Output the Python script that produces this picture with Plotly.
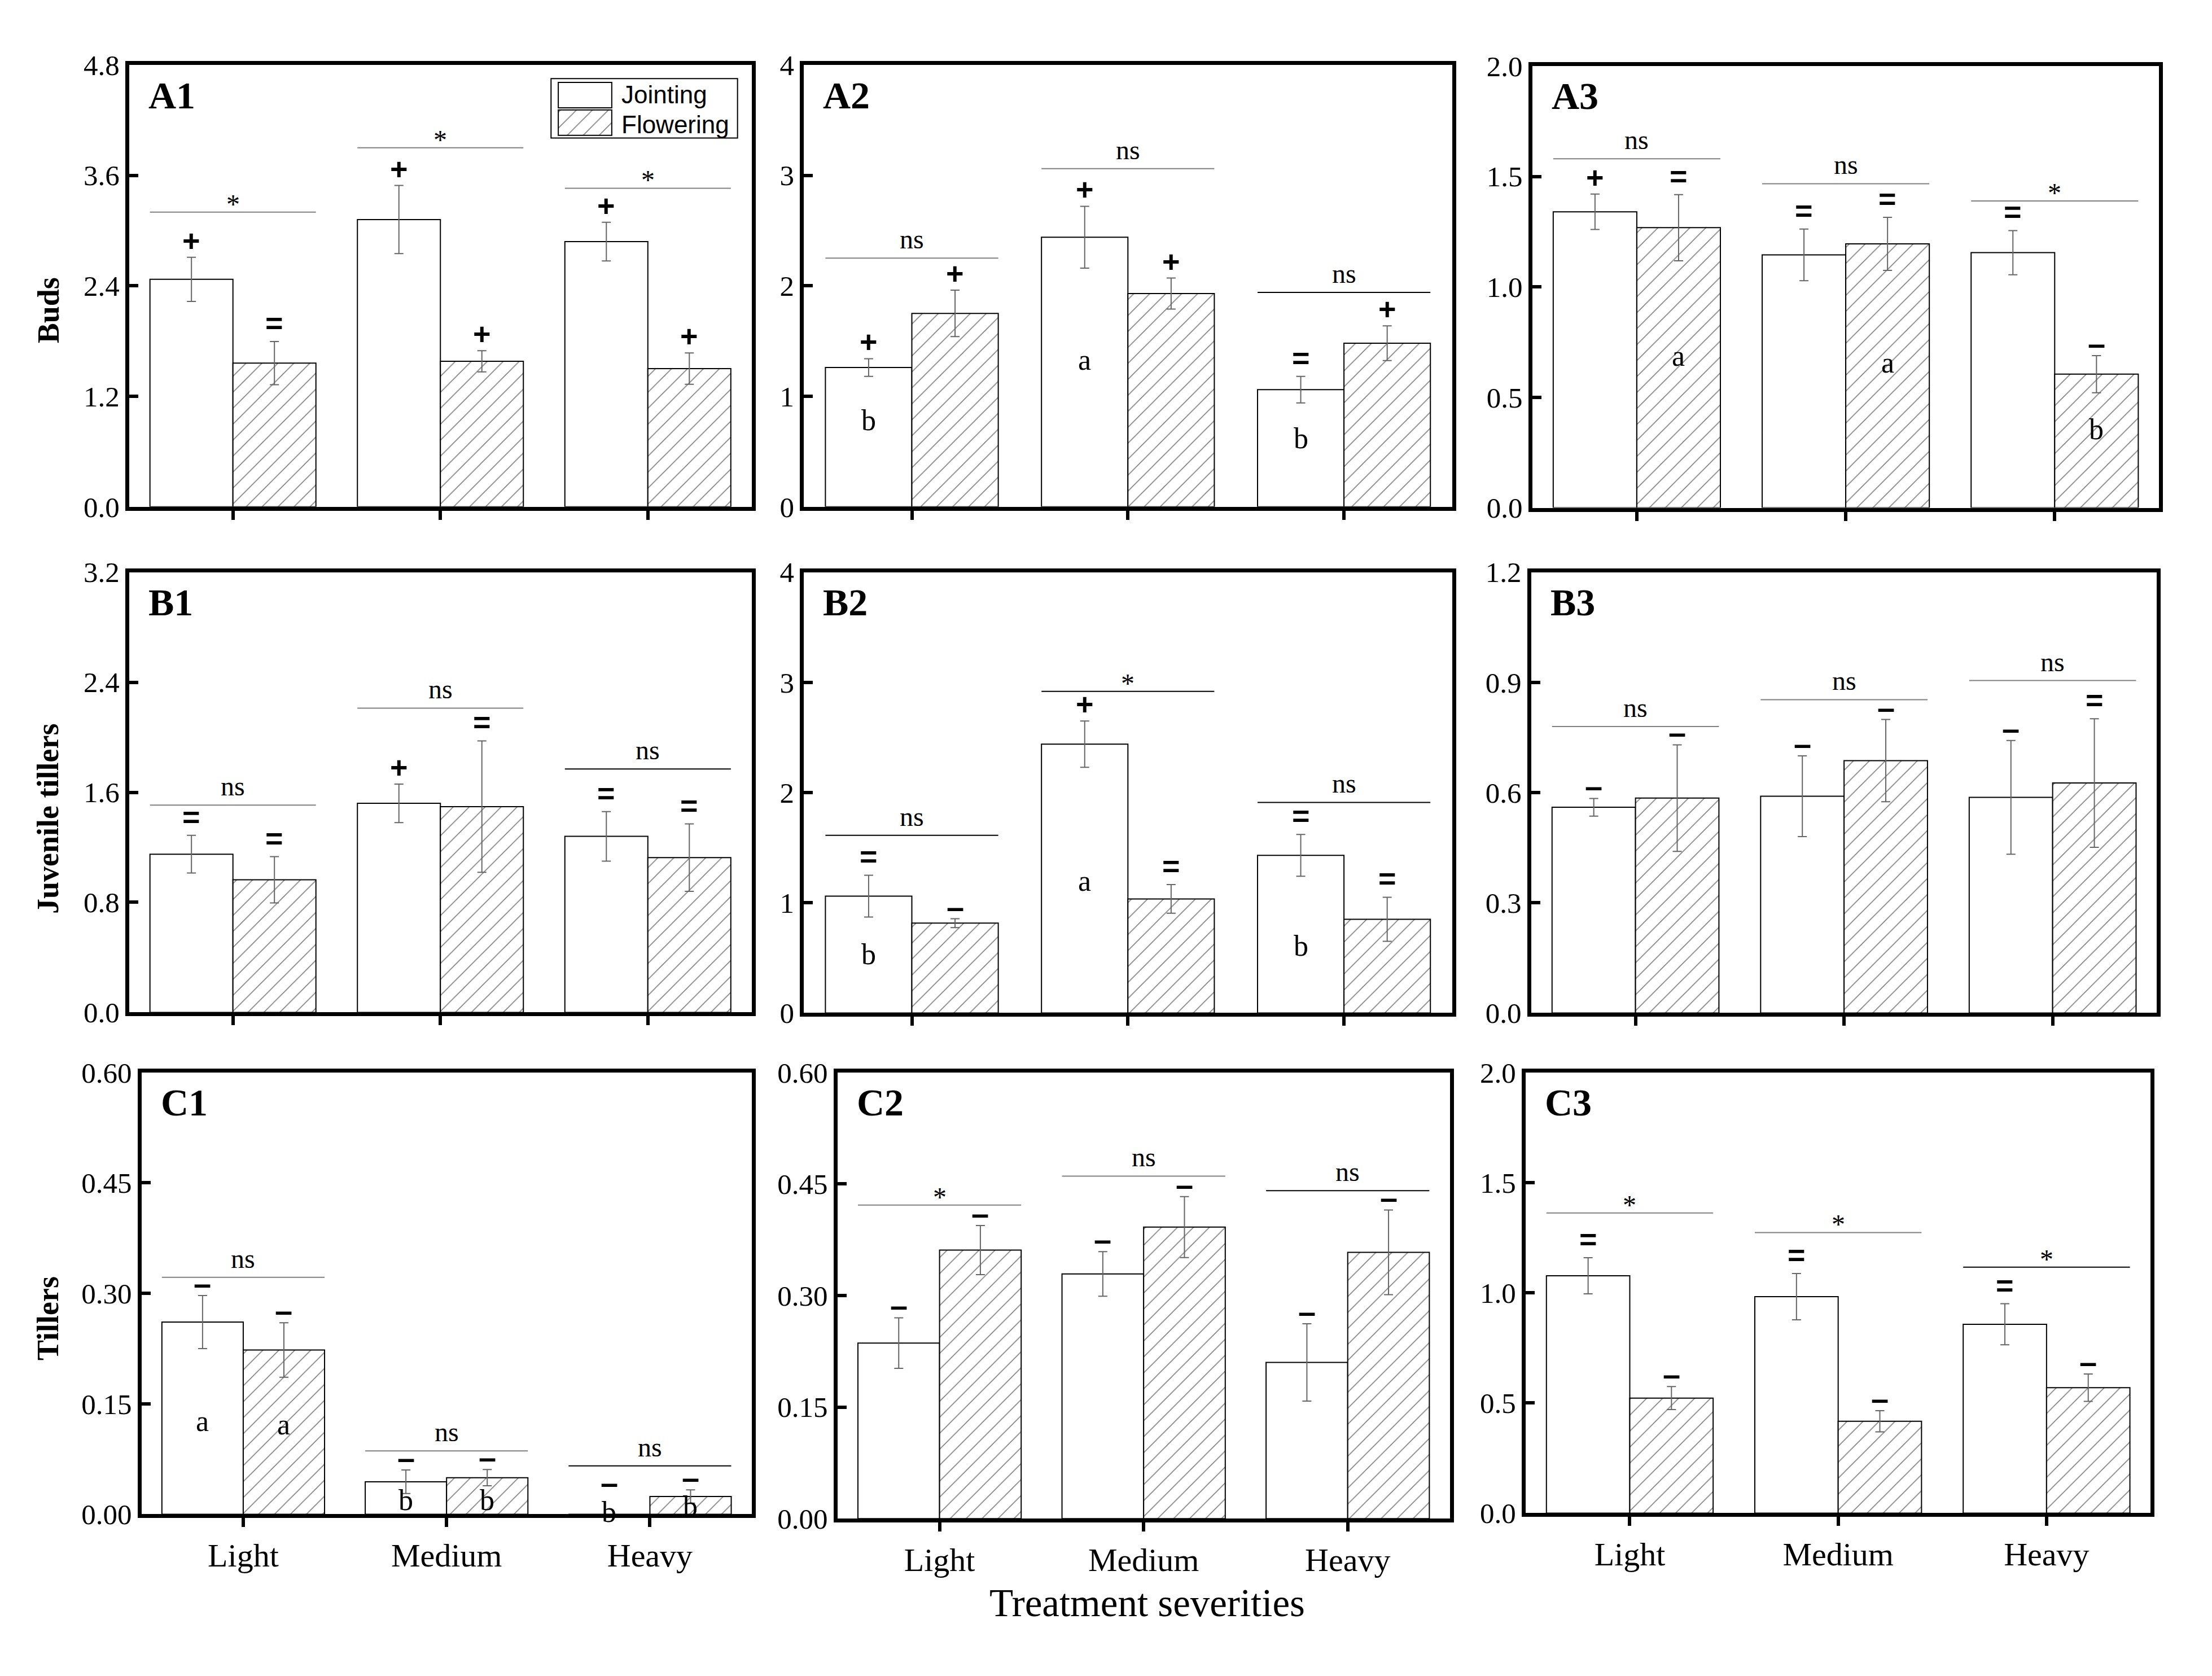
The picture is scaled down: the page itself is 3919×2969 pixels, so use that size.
"""Buds / juvenile tillers / tillers under three treatment severities.

3 x 3 grid of grouped bar charts (Jointing vs Flowering), with error bars,
response marks (+ = -), letters and significance brackets.
"""

import plotly.graph_objects as go

W, H = 3919, 2969          # pixel grid the layout positions are measured on

GROUPS = ["Light", "Medium", "Heavy"]

# ---- values -------------------------------------------------------------

A1_J = [2.47, 3.12, 2.88]
A1_J_SE = [0.24, 0.37, 0.21]
A1_F = [1.56, 1.58, 1.50]
A1_F_SE = [0.235, 0.115, 0.17]
A1_J_MARK = ["+", "+", "+"]
A1_F_MARK = ["=", "+", "+"]
A1_SIG = [3.20, 3.90, 3.46]
A1_SIG_TXT = ["*", "*", "*"]
A1_LETTERS = []
A1_TICKS = ["0.0", "1.2", "2.4", "3.6", "4.8"]

A2_J = [1.26, 2.44, 1.06]
A2_J_SE = [0.08, 0.28, 0.12]
A2_F = [1.75, 1.93, 1.48]
A2_F_SE = [0.21, 0.14, 0.157]
A2_J_MARK = ["+", "+", "="]
A2_F_MARK = ["+", "+", "+"]
A2_SIG = [2.25, 3.06, 1.94]
A2_SIG_TXT = ["ns", "ns", "ns"]
A2_LETTERS = [("J", 0, "b", 0.785), ("J", 1, "a", 1.30), ("J", 2, "b", 0.62)]
A2_TICKS = ["0", "1", "2", "3", "4"]

A3_J = [1.34, 1.145, 1.155]
A3_J_SE = [0.08, 0.117, 0.10]
A3_F = [1.268, 1.195, 0.605]
A3_F_SE = [0.15, 0.12, 0.084]
A3_J_MARK = ["+", "=", "="]
A3_F_MARK = ["=", "=", "-"]
A3_SIG = [1.58, 1.467, 1.389]
A3_SIG_TXT = ["ns", "ns", "*"]
A3_LETTERS = [("F", 0, "a", 0.672), ("F", 1, "a", 0.642), ("F", 2, "b", 0.355)]
A3_TICKS = ["0.0", "0.5", "1.0", "1.5", "2.0"]

B1_J = [1.15, 1.52, 1.28]
B1_J_SE = [0.137, 0.14, 0.18]
B1_F = [0.964, 1.496, 1.125]
B1_F_SE = [0.168, 0.478, 0.245]
B1_J_MARK = ["=", "+", "="]
B1_F_MARK = ["=", "=", "="]
B1_SIG = [1.507, 2.212, 1.769]
B1_SIG_TXT = ["ns", "ns", "ns"]
B1_LETTERS = []
B1_TICKS = ["0.0", "0.8", "1.6", "2.4", "3.2"]

B2_J = [1.06, 2.44, 1.43]
B2_J_SE = [0.19, 0.21, 0.19]
B2_F = [0.815, 1.035, 0.85]
B2_F_SE = [0.04, 0.13, 0.20]
B2_J_MARK = ["=", "+", "="]
B2_F_MARK = ["-", "=", "="]
B2_SIG = [1.612, 2.919, 1.911]
B2_SIG_TXT = ["ns", "*", "ns"]
B2_LETTERS = [("J", 0, "b", 0.53), ("J", 1, "a", 1.17), ("J", 2, "b", 0.61)]
B2_TICKS = ["0", "1", "2", "3", "4"]

B3_J = [0.56, 0.59, 0.587]
B3_J_SE = [0.024, 0.11, 0.155]
B3_F = [0.585, 0.687, 0.626]
B3_F_SE = [0.145, 0.112, 0.175]
B3_J_MARK = ["-", "-", "-"]
B3_F_MARK = ["-", "-", "="]
B3_SIG = [0.78, 0.853, 0.905]
B3_SIG_TXT = ["ns", "ns", "ns"]
B3_LETTERS = []
B3_TICKS = ["0.0", "0.3", "0.6", "0.9", "1.2"]

C1_J = [0.261, 0.044, 0.0]
C1_J_SE = [0.036, 0.016, 0.0]
C1_F = [0.223, 0.0496, 0.024]
C1_F_SE = [0.037, 0.011, 0.009]
C1_J_MARK = ["-", "-", "-"]
C1_F_MARK = ["-", "-", "-"]
C1_SIG = [0.3216, 0.0859, 0.0656]
C1_SIG_TXT = ["ns", "ns", "ns"]
C1_LETTERS = [("J", 0, "a", 0.122), ("F", 0, "a", 0.117),
              ("J", 1, "b", 0.019), ("F", 1, "b", 0.019),
              ("J", 2, "b", 0.003), ("F", 2, "b", 0.011)]
C1_TICKS = ["0.00", "0.15", "0.30", "0.45", "0.60"]

C2_J = [0.236, 0.329, 0.21]
C2_J_SE = [0.034, 0.03, 0.052]
C2_F = [0.361, 0.392, 0.358]
C2_F_SE = [0.033, 0.041, 0.057]
C2_J_MARK = ["-", "-", "-"]
C2_F_MARK = ["-", "-", "-"]
C2_SIG = [0.4216, 0.4605, 0.441]
C2_SIG_TXT = ["*", "ns", "ns"]
C2_LETTERS = []
C2_TICKS = ["0.00", "0.15", "0.30", "0.45", "0.60"]

C3_J = [1.077, 0.982, 0.857]
C3_J_SE = [0.082, 0.105, 0.093]
C3_F = [0.522, 0.417, 0.569]
C3_F_SE = [0.052, 0.048, 0.062]
C3_J_MARK = ["=", "=", "="]
C3_F_MARK = ["-", "-", "-"]
C3_SIG = [1.362, 1.273, 1.116]
C3_SIG_TXT = ["*", "*", "*"]
C3_LETTERS = []
C3_TICKS = ["0.0", "0.5", "1.0", "1.5", "2.0"]

Y_TITLES = {"A": "Buds", "B": "Juvenile tillers", "C": "Tillers"}
X_TITLE = "Treatment severities"
LEGEND_NAMES = ["Jointing", "Flowering"]
LEGEND_KEYS = [1, 1]

PANELS = [
    ("A1", A1_J, A1_J_SE, A1_F, A1_F_SE, A1_J_MARK, A1_F_MARK, A1_SIG, A1_SIG_TXT, A1_LETTERS, A1_TICKS),
    ("A2", A2_J, A2_J_SE, A2_F, A2_F_SE, A2_J_MARK, A2_F_MARK, A2_SIG, A2_SIG_TXT, A2_LETTERS, A2_TICKS),
    ("A3", A3_J, A3_J_SE, A3_F, A3_F_SE, A3_J_MARK, A3_F_MARK, A3_SIG, A3_SIG_TXT, A3_LETTERS, A3_TICKS),
    ("B1", B1_J, B1_J_SE, B1_F, B1_F_SE, B1_J_MARK, B1_F_MARK, B1_SIG, B1_SIG_TXT, B1_LETTERS, B1_TICKS),
    ("B2", B2_J, B2_J_SE, B2_F, B2_F_SE, B2_J_MARK, B2_F_MARK, B2_SIG, B2_SIG_TXT, B2_LETTERS, B2_TICKS),
    ("B3", B3_J, B3_J_SE, B3_F, B3_F_SE, B3_J_MARK, B3_F_MARK, B3_SIG, B3_SIG_TXT, B3_LETTERS, B3_TICKS),
    ("C1", C1_J, C1_J_SE, C1_F, C1_F_SE, C1_J_MARK, C1_F_MARK, C1_SIG, C1_SIG_TXT, C1_LETTERS, C1_TICKS),
    ("C2", C2_J, C2_J_SE, C2_F, C2_F_SE, C2_J_MARK, C2_F_MARK, C2_SIG, C2_SIG_TXT, C2_LETTERS, C2_TICKS),
    ("C3", C3_J, C3_J_SE, C3_F, C3_F_SE, C3_J_MARK, C3_F_MARK, C3_SIG, C3_SIG_TXT, C3_LETTERS, C3_TICKS),
]

# ---- layout (pixel boxes of each plot frame: left, right, top, bottom) ----

BOX = {
    "A1": (222, 1330, 82, 885),  "A2": (1423, 2577, 82, 885),  "A3": (2720, 3836, 84, 887),
    "B1": (222, 1330, 1004, 1804), "B2": (1423, 2577, 1004, 1805), "B3": (2718, 3832, 1004, 1805),
    "C1": (244, 1330, 1913, 2716), "C2": (1483, 2573, 1913, 2724), "C3": (2708, 3821, 1913, 2714),
}
Y_TITLE_POS = {"A": 528, "B": 1452, "C": 2360}

SERIF = "Liberation Serif"
SANS = "Liberation Sans"
ERR_COLOR = "#666666"
SIG_GREY = "#808080"
SIG_DARK = {("A2", 2), ("B1", 2), ("B2", 0), ("B2", 1), ("B2", 2),
            ("C1", 2), ("C2", 2), ("C3", 2)}      # brackets drawn in black
FRAME_W = 7
MARK_GLYPH = {"+": "+", "=": "=", "-": "\u2013"}
MARK_SHIFT = {"+": -2, "=": 1, "-": -12}
MARK_LIFT = {("C1", "J", 2): 34}     # mark sitting above a zero-height bar
SIG_SHIFT = {"ns": 5, "*": -14}
LETTER_SHIFT = {"a": 6, "b": 0}


def fx(p):
    return p / W


def fy(p):
    return 1 - p / H


fig = go.Figure()
layout = dict(
    width=3900, height=2950,
    margin=dict(l=0, r=0, t=0, b=0),
    paper_bgcolor="white", plot_bgcolor="white",
    barmode="group", bargap=0.2, bargroupgap=0,
    showlegend=False,
    font=dict(family=SERIF, color="black"),
)
annotations = []
shapes = []

hatch = dict(shape="/", size=20, solidity=0.08, fgcolor="black", bgcolor="white")

for k, (name, j, j_se, f, f_se, j_mark, f_mark, sig, sig_txt, letters, ticks) in enumerate(PANELS, start=1):
    xa = "x" if k == 1 else f"x{k}"
    ya = "y" if k == 1 else f"y{k}"
    left, right, top, bottom = BOX[name]
    row = name[0]
    tickvals = [float(t) for t in ticks]

    layout["xaxis" if k == 1 else f"xaxis{k}"] = dict(
        domain=[fx(left), fx(right)], anchor=ya,
        type="category", categoryorder="array", categoryarray=GROUPS,
        range=[-0.5, 2.5],
        showline=True, linecolor="black", linewidth=FRAME_W, mirror=True,
        ticks="outside", ticklen=16, tickwidth=6, tickcolor="black",
        showgrid=False, zeroline=False,
        showticklabels=(row == "C"),
        tickfont=dict(family=SERIF, size=58, color="black"),
    )
    layout["yaxis" if k == 1 else f"yaxis{k}"] = dict(
        domain=[fy(bottom), fy(top)], anchor=xa,
        range=[0, tickvals[-1]], tickvals=tickvals, ticktext=ticks,
        showline=True, linecolor="black", linewidth=FRAME_W, mirror=True,
        ticks="inside", ticklen=16, tickwidth=6, tickcolor="black",
        showgrid=False, zeroline=False,
        tickfont=dict(family=SERIF, size=51, color="black"),
    )

    fig.add_trace(go.Bar(
        x=GROUPS, y=j, name="Jointing", xaxis=xa, yaxis=ya,
        marker=dict(color="white", line=dict(color="black", width=2)),
        error_y=dict(type="data", array=j_se, color=ERR_COLOR, thickness=2, width=8),
    ))
    fig.add_trace(go.Bar(
        x=GROUPS, y=f, name="Flowering", xaxis=xa, yaxis=ya,
        marker=dict(color="white", line=dict(color="black", width=2), pattern=hatch),
        error_y=dict(type="data", array=f_se, color=ERR_COLOR, thickness=2, width=8),
    ))

    for g in range(3):
        # response marks above the error bars
        for series, dx, vals, errs, marks in (("J", -0.2, j, j_se, j_mark), ("F", 0.2, f, f_se, f_mark)):
            m = marks[g]
            annotations.append(dict(
                x=g + dx, y=vals[g] + errs[g], xref=xa, yref=ya,
                text=f"<b>{MARK_GLYPH[m]}</b>", showarrow=False,
                yanchor="bottom", yshift=MARK_SHIFT[m] + MARK_LIFT.get((name, series, g), 0),
                font=dict(family=SANS, size=56 if m == "-" else 54, color="black"),
            ))
        # significance bracket
        shapes.append(dict(
            type="line", xref=xa, yref=ya, x0=g - 0.4, x1=g + 0.4,
            y0=sig[g], y1=sig[g],
            line=dict(color="black" if (name, g) in SIG_DARK else SIG_GREY, width=2),
        ))
        annotations.append(dict(
            x=g, y=sig[g], xref=xa, yref=ya, text=sig_txt[g], showarrow=False,
            yanchor="bottom", yshift=SIG_SHIFT[sig_txt[g]],
            font=dict(family=SERIF, size=48, color="black"),
        ))

    for series, g, letter, ly in letters:
        annotations.append(dict(
            x=g + (-0.2 if series == "J" else 0.2), y=ly, xref=xa, yref=ya,
            text=letter, showarrow=False, yanchor="middle",
            yshift=LETTER_SHIFT[letter],
            font=dict(family=SERIF, size=52, color="black"),
        ))

    # panel tag
    annotations.append(dict(
        x=fx(left + 32), y=fy(top + 55), xref="paper", yref="paper",
        text=f"<b>{name}</b>", showarrow=False, xanchor="left", yanchor="middle",
        font=dict(family=SERIF, size=68, color="black"),
    ))

# ---- axis titles ---------------------------------------------------------

for row, title in Y_TITLES.items():
    annotations.append(dict(
        x=fx(78), y=fy(Y_TITLE_POS[row]), xref="paper", yref="paper",
        text=f"<b>{title}</b>", showarrow=False, textangle=-90,
        xanchor="center", yanchor="middle",
        font=dict(family=SERIF, size=54, color="black"),
    ))
annotations.append(dict(
    x=fx(2034), y=fy(2878), xref="paper", yref="paper", text=X_TITLE,
    showarrow=False, xanchor="center", yanchor="middle",
    font=dict(family=SERIF, size=69, color="black"),
))

# ---- legend inside A1 ----------------------------------------------------

shapes.append(dict(
    type="rect", xref="paper", yref="paper",
    x0=fx(973), x1=fx(1305), y0=fy(215), y1=fy(107),
    line=dict(color="black", width=2), fillcolor="rgba(0,0,0,0)",
))
layout["xaxis10"] = dict(domain=[fx(984), fx(1083)], anchor="y10", range=[-0.02, 1.02], visible=False)
layout["yaxis10"] = dict(domain=[fy(212), fy(112)], anchor="x10", type="category",
                         categoryorder="array", categoryarray=LEGEND_NAMES[::-1],
                         range=[-0.5, 1.5], visible=False)
fig.add_trace(go.Bar(
    x=LEGEND_KEYS[::-1], y=LEGEND_NAMES[::-1], orientation="h", width=0.92,
    xaxis="x10", yaxis="y10", hoverinfo="skip",
    marker=dict(color="white", line=dict(color="black", width=2),
                pattern=dict(shape=["/", ""], size=20, solidity=0.08,
                             fgcolor="black", bgcolor="white")),
))
for label, cy in zip(LEGEND_NAMES, (136, 190)):
    annotations.append(dict(
        x=fx(1096), y=fy(cy), xref="paper", yref="paper", text=label,
        showarrow=False, xanchor="left", yanchor="middle",
        font=dict(family=SANS, size=44, color="black"),
    ))

layout["annotations"] = annotations
layout["shapes"] = shapes
fig.update_layout(**layout)

fig.write_html("out.html")
